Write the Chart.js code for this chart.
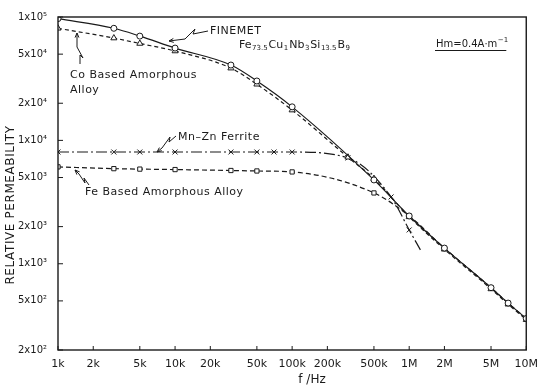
<!DOCTYPE html>
<html>
<head>
<meta charset="utf-8">
<script src="https://cdn.jsdelivr.net/npm/chart.js@4.4.1/dist/chart.umd.min.js"></script>
<style>
  html, body { margin: 0; padding: 0; background: #fff; }
</style>
</head>
<body>
<canvas id="chart" width="538" height="388"></canvas>
<script>
// Relative permeability vs frequency (Hm = 0.4 A/m)

// x ticks (Hz) and labels
const xTicks = [1e3, 2e3, 5e3, 1e4, 2e4, 5e4, 1e5, 2e5, 5e5, 1e6, 2e6, 5e6, 1e7];
const xTickLabels = ['1k', '2k', '5k', '10k', '20k', '50k', '100k', '200k', '500k', '1M', '2M', '5M', '10M'];

// y ticks and labels
const yTicks = [200, 500, 1000, 2000, 5000, 1e4, 2e4, 5e4, 1e5];
const yTickLabels = ['2x10²', '5x10²', '1x10³', '2x10³', '5x10³', '1x10⁴', '2x10⁴', '5x10⁴', '1x10⁵'];

// FINEMET Fe73.5Cu1Nb3Si13.5B9 (circles, solid)
const finemetFreq = [1e3, 3e3, 5e3, 1e4, 3e4, 5e4, 1e5, 5e5, 1e6, 2e6, 5e6, 7e6, 1e7];
const finemetMu = [97000, 81000, 70000, 56000, 40800, 30300, 18700, 4780, 2440, 1340, 640, 480, 360];

// Co based amorphous alloy (triangles, dashed)
const coFreq = [1e3, 3e3, 5e3, 1e4, 3e4, 5e4, 1e5, 3e5, 5e5, 1e6, 2e6, 5e6, 7e6, 1e7];
const coMu = [81000, 67500, 61000, 53000, 38500, 28500, 17600, 7300, 4900, 2400, 1310, 625, 470, 352];

// Mn-Zn ferrite (crosses, dash-dot)
const mnznFreq = [1e3, 3e3, 5e3, 1e4, 3e4, 5e4, 7e4, 1e5, 3e5, 7e5, 1e6, 1.25e6];
const mnznMu = [8050, 8050, 8050, 8050, 8050, 8050, 8050, 8050, 7200, 3480, 1880, 1290];

// Fe based amorphous alloy (squares, dashed)
const feFreq = [1e3, 3e3, 5e3, 1e4, 3e4, 5e4, 1e5, 5e5, 1e6, 2e6, 5e6, 7e6, 1e7];
const feMu = [6100, 5900, 5850, 5800, 5700, 5650, 5550, 3750, 2440, 1340, 640, 480, 360];

const INK = '#1a1a1a';
const FONT = '"DejaVu Sans", sans-serif';

function toPoints(xs, ys) {
    return xs.map((x, i) => ({ x: x, y: ys[i] }));
}

function series(label, xs, ys, style, radius, dash) {
    return {
        label: label,
        data: toPoints(xs, ys),
        borderColor: INK,
        borderWidth: 1.2,
        borderDash: dash,
        backgroundColor: '#fff',
        pointStyle: style,
        pointRadius: radius,
        pointBorderColor: INK,
        pointBorderWidth: 1,
        pointBackgroundColor: '#fff',
        cubicInterpolationMode: 'monotone',
        fill: false
    };
}

// hide the marker on the last Mn-Zn point (line just ends there)
const mnznRadius = mnznFreq.map((f, i) => (i === mnznFreq.length - 1 ? 0 : 3.5));

// frame, inward ticks, axis titles, annotations
const decorPlugin = {
    id: 'decor',
    afterDraw(chart) {
        const ctx = chart.ctx;
        const a = chart.chartArea;
        const xs = chart.scales.x;
        const ys = chart.scales.y;
        ctx.save();
        ctx.strokeStyle = INK;
        ctx.fillStyle = INK;
        ctx.lineWidth = 1.4;
        ctx.strokeRect(a.left, a.top, a.right - a.left, a.bottom - a.top);

        ctx.lineWidth = 1;
        yTicks.forEach(v => {
            const y = ys.getPixelForValue(v);
            ctx.beginPath(); ctx.moveTo(a.left, y); ctx.lineTo(a.left + 5, y); ctx.stroke();
        });
        xTicks.forEach(v => {
            const x = xs.getPixelForValue(v);
            ctx.beginPath(); ctx.moveTo(x, a.bottom); ctx.lineTo(x, a.bottom - 4); ctx.stroke();
        });

        // y title
        ctx.save();
        ctx.translate(11, 205);
        ctx.rotate(-Math.PI / 2);
        ctx.font = '12px ' + FONT;
        ctx.letterSpacing = '0.6px';
        ctx.textAlign = 'center';
        ctx.textBaseline = 'middle';
        ctx.fillText('RELATIVE PERMEABILITY', 0, 0);
        ctx.restore();

        // x title
        ctx.font = '12px ' + FONT;
        ctx.textAlign = 'center';
        ctx.textBaseline = 'middle';
        ctx.fillText('f /Hz', 312, 380);

        // annotations
        ctx.textAlign = 'left';
        ctx.font = '11px ' + FONT;
        ctx.letterSpacing = '0.5px';
        ctx.fillText('FINEMET', 210, 31);
        ctx.fillText('Co Based Amorphous', 70, 75);
        ctx.fillText('Alloy', 70, 90);
        ctx.fillText('Mn\u2013Zn Ferrite', 178, 137);
        ctx.fillText('Fe Based Amorphous Alloy', 85, 192);
        ctx.letterSpacing = '0px';

        // Fe73.5Cu1Nb3Si13.5B9
        const parts = [['Fe', 0], ['73.5', 1], ['Cu', 0], ['1', 1], ['Nb', 0], ['3', 1],
                       ['Si', 0], ['13.5', 1], ['B', 0], ['9', 1]];
        let x = 239;
        parts.forEach(p => {
            ctx.font = (p[1] ? '7px ' : '11px ') + FONT;
            ctx.fillText(p[0], x, p[1] ? 48 : 45);
            x += ctx.measureText(p[0]).width + (p[1] ? 1 : 0.5);
        });

        // Hm = 0.4 A·m^-1, underlined
        ctx.font = '10px ' + FONT;
        const hm = 'Hm=0.4A\u00b7m';
        ctx.fillText(hm, 436, 44);
        const w = ctx.measureText(hm).width;
        ctx.font = '7px ' + FONT;
        ctx.fillText('\u22121', 436 + w + 0.5, 40);
        ctx.beginPath(); ctx.moveTo(435, 50.5); ctx.lineTo(436 + w + 9, 50.5); ctx.stroke();

        // zigzag pointers
        const pointers = [
            [[208, 31], [193, 34], [195, 29], [185, 39], [169, 41]],
            [[80, 64], [80, 55], [83, 58], [77, 47], [77, 33]],
            [[176, 136], [169, 142], [170, 137], [162, 148], [157, 152]],
            [[89, 185], [84, 178], [85, 183], [79, 174], [75, 170]]
        ];
        pointers.forEach(pts => {
            ctx.beginPath();
            ctx.moveTo(pts[0][0], pts[0][1]);
            pts.slice(1).forEach(p => ctx.lineTo(p[0], p[1]));
            ctx.stroke();
            const t = pts[pts.length - 1], s = pts[pts.length - 2];
            const ang = Math.atan2(t[1] - s[1], t[0] - s[0]);
            ctx.beginPath();
            ctx.moveTo(t[0] - 5 * Math.cos(ang - 0.4), t[1] - 5 * Math.sin(ang - 0.4));
            ctx.lineTo(t[0], t[1]);
            ctx.lineTo(t[0] - 5 * Math.cos(ang + 0.4), t[1] - 5 * Math.sin(ang + 0.4));
            ctx.stroke();
        });
        ctx.restore();
    }
};

const config = {
    type: 'line',
    data: {
        datasets: [
            series('FINEMET', finemetFreq, finemetMu, 'circle', 3, []),
            series('Co Based Amorphous Alloy', coFreq, coMu, 'triangle', 3.5, [4, 3]),
            series('Mn-Zn Ferrite', mnznFreq, mnznMu, 'crossRot', mnznRadius, [11, 3, 2, 3]),
            series('Fe Based Amorphous Alloy', feFreq, feMu, 'rect', 3, [5, 3])
        ]
    },
    options: {
        responsive: false,
        animation: false,
        layout: { padding: { top: 17, right: 10, left: 0, bottom: 0 } },
        plugins: {
            legend: { display: false },
            tooltip: { enabled: false }
        },
        scales: {
            x: {
                type: 'logarithmic',
                min: 1e3,
                max: 1e7,
                afterBuildTicks: axis => { axis.ticks = xTicks.map(v => ({ value: v })); },
                afterFit: axis => { axis.height = 38; },
                ticks: {
                    autoSkip: false,
                    maxRotation: 0,
                    padding: 0,
                    color: INK,
                    font: { family: FONT, size: 11 },
                    callback: (v, i) => xTickLabels[i]
                },
                grid: { display: false },
                border: { display: false }
            },
            y: {
                type: 'logarithmic',
                min: 200,
                max: 1e5,
                afterBuildTicks: axis => { axis.ticks = yTicks.map(v => ({ value: v })); },
                afterFit: axis => { axis.width = 58; },
                ticks: {
                    autoSkip: false,
                    padding: 3,
                    color: INK,
                    font: { family: FONT, size: 10 },
                    callback: (v, i) => yTickLabels[i]
                },
                grid: { display: false },
                border: { display: false }
            }
        }
    },
    plugins: [decorPlugin]
};

new Chart(document.getElementById('chart'), config);
</script>
</body>
</html>
